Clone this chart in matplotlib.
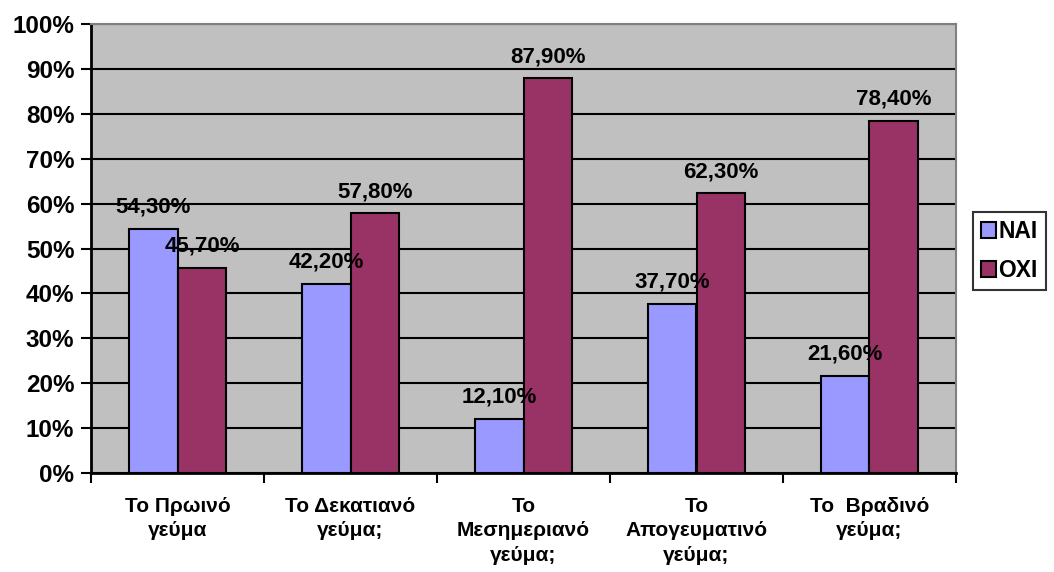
import matplotlib
matplotlib.use("Agg")
import matplotlib.pyplot as plt
import numpy as np
from matplotlib.patches import Patch

categories = ["Το Πρωινό\nγεύμα", "Το Δεκατιανό\nγεύμα;", "Το\nΜεσημεριανό\nγεύμα;",
              "Το\nΑπογευματινό\nγεύμα;", "Το  Βραδινό\nγεύμα;"]
nai = [54.3, 42.2, 12.1, 37.7, 21.6]
oxi = [45.7, 57.8, 87.9, 62.3, 78.4]
series_names = ["NAI", "OXI"]
colors = ["#9999FF", "#993366"]

plt.rcParams['font.family'] = ['Liberation Sans', 'DejaVu Sans']

fig = plt.figure(figsize=(10.54, 5.72), dpi=100)
ax = fig.add_axes([91/1054, 1 - 473/572, (956-91)/1054, (473-24)/572])
ax.set_facecolor("#C0C0C0")

x = np.arange(len(categories))
w = 0.283
for vals, col, off in [(nai, colors[0], -w/2), (oxi, colors[1], w/2)]:
    ax.bar(x + off, vals, width=w, color=col, edgecolor="black", linewidth=1.5, zorder=3)
    for xi, v in zip(x + off, vals):
        lbl = f"{v:.2f}%".replace(".", ",")
        ax.text(xi, v + 2.5, lbl, ha="center", va="bottom", fontsize=16,
                fontweight="bold", zorder=5)

ax.set_xlim(-0.5, len(categories) - 0.5)
ax.set_ylim(0, 100)
ax.set_yticks(np.arange(0, 101, 10))
ax.set_yticklabels([f"{t}%" for t in range(0, 101, 10)], fontsize=17.5, fontweight="bold")
ax.yaxis.grid(True, color="black", linewidth=1.5, zorder=1)
ax.set_axisbelow(True)

ax.set_xticks(np.arange(-0.5, len(categories) + 0.5, 1))
ax.set_xticklabels([])
ax.set_xticks(x, minor=True)
ax.set_xticklabels(categories, minor=True, fontsize=15, fontweight="bold", linespacing=1.38)
ax.tick_params(axis="x", which="minor", length=0, pad=17)
ax.tick_params(axis="x", which="major", length=7, width=1.5, direction="out")
ax.tick_params(axis="y", length=7, width=1.5, direction="out", pad=5)

for s in ["left", "bottom"]:
    ax.spines[s].set_linewidth(2)
    ax.spines[s].set_color("black")
for s in ["top", "right"]:
    ax.spines[s].set_linewidth(1.5)
    ax.spines[s].set_color("#808080")

handles = [Patch(facecolor=c, edgecolor="black", linewidth=1.5) for c in colors]
leg = fig.legend(handles, series_names, loc="upper left",
                 bbox_to_anchor=(973/1054, 1 - 212/572), frameon=True, fancybox=False,
                 prop={"size": 16.5, "weight": "bold"}, handlelength=0.65, handleheight=0.65,
                 handletextpad=0.1, borderpad=0.35, labelspacing=0.7, borderaxespad=0)
leg.get_frame().set_edgecolor("black")
leg.get_frame().set_linewidth(1.5)

fig.savefig("out.png", dpi=100)
